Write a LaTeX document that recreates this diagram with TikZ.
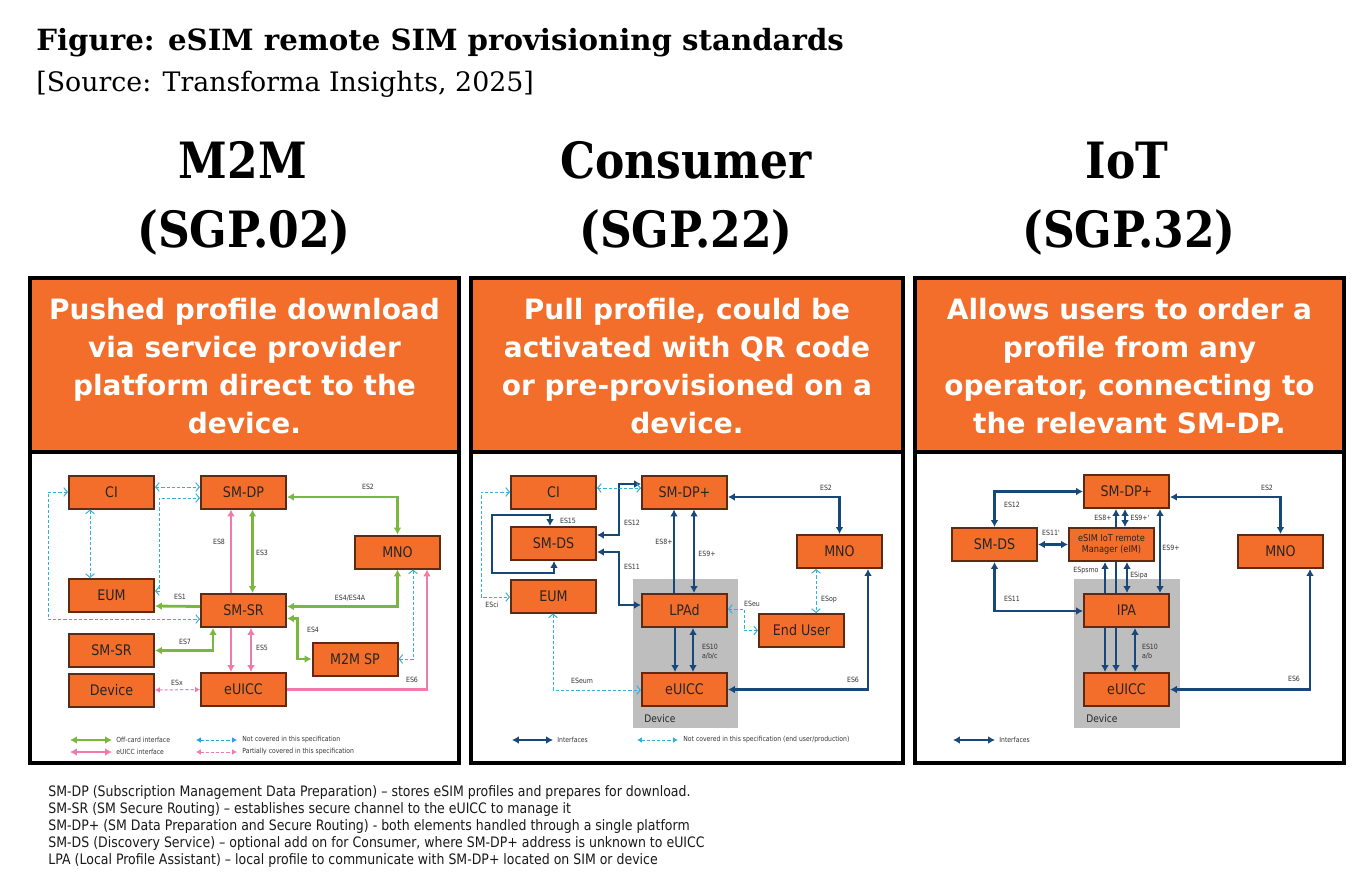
\documentclass[tikz,border=0pt]{standalone}
\usepackage{fontspec}
\setmainfont{DejaVu Sans}
\newfontfamily\tahoma[FakeStretch=0.87]{DejaVu Sans}
\newfontfamily\slab{DejaVu Serif}
\newfontfamily\slabhead[FakeStretch=0.88]{DejaVu Serif}
\usetikzlibrary{arrows.meta,calc}

\definecolor{esorange}{RGB}{243,110,42}
\definecolor{boxline}{RGB}{95,42,18}
\definecolor{offgreen}{RGB}{122,183,62}
\definecolor{uiccpink}{RGB}{240,122,172}
\definecolor{notcyan}{RGB}{48,178,220}
\definecolor{ifnavy}{RGB}{24,72,122}
\definecolor{devgray}{RGB}{190,190,190}

\begin{document}
\begin{tikzpicture}[x=0.5pt,y=-0.5pt,
    >={Latex[length=3.4pt,width=3.8pt]},
    barb/.tip={Straight Barb[length=1.8pt,width=4.4pt]},
    sm/.tip={Latex[length=2.4pt,width=2.8pt]},
    esbox/.style={draw=boxline, fill=esorange, line width=1pt, minimum width=42.5pt,
        minimum height=16.5pt, inner sep=0pt, text=black!85,
        font=\tahoma\fontsize{7.3}{8}\selectfont},
    hdr/.style={text=white, align=center, inner sep=0pt,
        font=\bfseries\fontsize{14}{19}\selectfont},
    std/.style={anchor=base, inner sep=0pt, font=\slabhead\bfseries\fontsize{25}{28}\selectfont},
    panelline/.style={draw=black, line width=2pt},
    offcard/.style={draw=offgreen, line width=1.4pt},
    uicc/.style={draw=uiccpink, line width=1.4pt},
    iface/.style={draw=ifnavy, line width=1.4pt},
    notcov/.style={draw=notcyan, line width=0.5pt, dash pattern=on 1.6pt off 1pt},
    partcov/.style={draw=uiccpink, line width=0.5pt, dash pattern=on 1.6pt off 1pt},
    eslbl/.style={inner sep=0pt, text=black!80, font=\tahoma\fontsize{3.6}{4.4}\selectfont},
    legtxt/.style={anchor=west, inner sep=0pt, text=black!80, font=\tahoma\fontsize{3.5}{4}\selectfont},
    devtxt/.style={anchor=base west, inner sep=0pt, text=black!85, font=\tahoma\fontsize{5.2}{6}\selectfont}]
    \useasboundingbox (0,0) rectangle (1362,884);

    % Titles
    \node[anchor=base west, inner sep=0pt, font=\slab\bfseries\fontsize{14.6}{16}\selectfont] (title) at (36,50) {Figure: eSIM remote SIM provisioning standards};
    \node[anchor=base west, inner sep=0pt, font=\slab\fontsize{13.4}{16}\selectfont] (source) at (36,91) {[Source: Transforma Insights, 2025]};

    \node[std] (mName) at (243,178) {M2M};
    \node[std] (mSgp) at (244,247) {(SGP.02)};
    \node[std] (cName) at (686,178) {Consumer};
    \node[std] (cSgp) at (686,247) {(SGP.22)};
    \node[std] (iName) at (1127,178) {IoT};
    \node[std] (iSgp) at (1129,247) {(SGP.32)};

    % Panels
    \foreach \xl/\xr in {30/459, 471/903, 915/1344} {
        \fill[esorange] (\xl,278) rectangle (\xr,452);
        \draw[panelline] (\xl,278) rectangle (\xr,763);
        \draw[panelline] (\xl,452) -- (\xr,452);
    }
    \node[hdr] (mHead) at (244.5,366) {Pushed profile download\\via service provider\\platform direct to the\\device.};
    \node[hdr] (cHead) at (687,366) {Pull profile, could be\\activated with QR code\\or pre-provisioned on a\\device.};
    \node[hdr] (iHead) at (1129.5,366) {Allows users to order a\\profile from any\\operator, connecting to\\the relevant SM-DP.};

    % ---------------- M2M (SGP.02)
    \node[esbox] (mCI) at (111.5,492) {CI};
    \node[esbox] (mDP) at (243.5,492) {SM-DP};
    \node[esbox] (mMNO) at (397.5,552) {MNO};
    \node[esbox] (mEUM) at (111.5,595.5) {EUM};
    \node[esbox] (mSR) at (243.5,610.5) {SM-SR};
    \node[esbox] (mSR2) at (111.5,650.5) {SM-SR};
    \node[esbox] (mSP) at (355,659) {M2M SP};
    \node[esbox] (mDev) at (111.5,690) {Device};
    \node[esbox] (mUICC) at (243.5,689.5) {eUICC};

    % off-card
    \draw[offcard,<->] ($(mDP.east)+(0,5)$) -| (mMNO.north);
    \draw[offcard,<->] ($(mDP.south)+(9,0)$) -- ($(mSR.north)+(9,0)$);
    \draw[offcard,<->] ($(mSR.east)+(0,-4)$) -| (mMNO.south);
    \draw[offcard,<->] ($(mSR.east)+(0,8)$) -| ($(mSP.west)+(-14,0)$) -- (mSP.west);
    \draw[offcard,->] ($(mSR.west)+(0,-4)$) -- ($(mEUM.east)+(0,10.5)$);
    \draw[offcard,<->] ($(mSR.south)+(-30.5,0)$) |- (mSR2.east);
    % eUICC
    \draw[uicc,->] ($(mSR.north)+(-12.5,0)$) -- ($(mDP.south)+(-12.5,0)$);
    \draw[uicc,->] ($(mSR.south)+(-12.5,0)$) -- ($(mUICC.north)+(-12.5,0)$);
    \draw[uicc,<->] ($(mSR.south)+(7.5,0)$) -- ($(mUICC.north)+(7.5,0)$);
    \draw[uicc,->] (mUICC.east) -| ($(mMNO.south)+(29.5,0)$);
    % not covered
    \draw[notcov,barb-barb] ($(mCI.east)+(0,-5)$) -- ($(mDP.west)+(0,-5)$);
    \draw[notcov,barb-barb] ($(mCI.south)+(-21.5,0)$) -- ($(mEUM.north)+(-21.5,0)$);
    \draw[notcov,barb-barb] ($(mEUM.east)+(0,-4.5)$) -- ++(4,0) |- ($(mDP.west)+(0,6)$);
    \draw[notcov,barb-barb] (mCI.west) -- ++(-20,0) |- ($(mSR.west)+(0,8.5)$);
    \draw[notcov,barb-barb] (mSP.east) -| ($(mMNO.south)+(15.5,0)$);
    \draw[partcov,sm-sm] (mDev.east) -- (mUICC.west);

    \node[eslbl] (mES2) at (368,487) {ES2};
    \node[eslbl] (mES8) at (219,542) {ES8};
    \node[eslbl] (mES3) at (262,553) {ES3};
    \node[eslbl] (mES1) at (180,597) {ES1};
    \node[eslbl] (mES4A) at (350,598) {ES4/ES4A};
    \node[eslbl] (mES4) at (313,630) {ES4};
    \node[eslbl] (mES7) at (185,642) {ES7};
    \node[eslbl] (mES5) at (262,648) {ES5};
    \node[eslbl] (mESx) at (177,683) {ESx};
    \node[eslbl] (mES6) at (412,680) {ES6};

    % legend
    \coordinate (mL1a) at (70,740); \coordinate (mL1b) at (112,740);
    \coordinate (mL2a) at (70,752); \coordinate (mL2b) at (112,752);
    \coordinate (mL3a) at (196,740); \coordinate (mL3b) at (237,740);
    \coordinate (mL4a) at (196,752); \coordinate (mL4b) at (237,752);
    \draw[offcard,<->] (mL1a) -- (mL1b);
    \draw[uicc,<->] (mL2a) -- (mL2b);
    \draw[notcov,draw=notcyan!90!blue,sm-sm] (mL3a) -- (mL3b);
    \draw[partcov,sm-sm] (mL4a) -- (mL4b);
    \node[legtxt] (mT1) at (116,740) {Off-card interface};
    \node[legtxt] (mT2) at (116,752) {eUICC interface};
    \node[legtxt] (mT3) at (242,740) {Not covered in this specification};
    \node[legtxt] (mT4) at (242,752) {Partially covered in this specification};

    % ---------------- Consumer (SGP.22)
    \fill[devgray] (633,579) rectangle (738,728);
    \node[devtxt] (cDevice) at (644,722) {Device};
    \node[esbox] (cCI) at (553.5,492) {CI};
    \node[esbox] (cDP) at (684.5,492) {SM-DP+};
    \node[esbox] (cDS) at (553.5,543.5) {SM-DS};
    \node[esbox] (cMNO) at (839.5,551.5) {MNO};
    \node[esbox] (cEUM) at (553.5,596) {EUM};
    \node[esbox] (cLPA) at (684.5,610.5) {LPAd};
    \node[esbox] (cEU) at (801.5,630.5) {End User};
    \node[esbox] (cUICC) at (684.5,689.5) {eUICC};

    \draw[iface,<->] ($(cDP.east)+(0,5)$) -| (cMNO.north);
    \draw[iface,<->] ($(cDS.east)+(0,-8.5)$) -- ++(22,0) |- ($(cDP.west)+(0,-8)$);
    \draw[iface,<->] ($(cDS.east)+(0,8.5)$) -- ++(22,0) |- ($(cLPA.west)+(0,-5.5)$);
    \draw[iface,<->] ($(cDS.south)+(0.5,0)$) -- ++(0,12) -| ($(cDS.north)+(-61.5,-11)$) -| ($(cDS.north)+(-3.5,0)$);
    \draw[iface,->] ($(cLPA.north)+(-10.5,0)$) -- ($(cDP.south)+(-10.5,0)$);
    \draw[iface,<->] ($(cLPA.north)+(9.5,0)$) -- ($(cDP.south)+(9.5,0)$);
    \draw[iface,->] ($(cLPA.south)+(-9.5,0)$) -- ($(cUICC.north)+(-9.5,0)$);
    \draw[iface,<->] ($(cLPA.south)+(8.5,0)$) -- ($(cUICC.north)+(8.5,0)$);
    \draw[iface,<->] (cUICC.east) -| ($(cMNO.south)+(28.5,0)$);
    \draw[notcov,barb-barb] ($(cCI.east)+(0,-4)$) -- ($(cDP.west)+(0,-4)$);
    \draw[notcov,barb-barb] (cCI.west) -- ++(-29,0) |- ($(cEUM.west)+(0,1)$);
    \draw[notcov,barb-barb] ($(cEUM.south)+(-0.5,0)$) |- ($(cUICC.west)+(0,0.5)$);
    \draw[notcov,barb-barb] ($(cLPA.east)+(0,-1.5)$) -- ++(16,0) |- (cEU.west);
    \draw[notcov,barb-barb] ($(cMNO.south)+(-23.5,0)$) -- ($(cEU.north)+(14.5,0)$);

    \node[eslbl] (cES2) at (826,488) {ES2};
    \node[eslbl] (cES15) at (568,521) {ES15};
    \node[eslbl] (cES12) at (632,523) {ES12};
    \node[eslbl] (cES8) at (664,542) {ES8+};
    \node[eslbl] (cES9) at (707,554) {ES9+};
    \node[eslbl] (cES11) at (632,567) {ES11};
    \node[eslbl] (cESeu) at (752,604) {ESeu};
    \node[eslbl] (cESop) at (829,600) {ESop};
    \node[eslbl] (cESci) at (492,605) {ESci};
    \node[eslbl,align=left] (cES10) at (710,652) {ES10\\a/b/c};
    \node[eslbl] (cESeum) at (582,681) {ESeum};
    \node[eslbl] (cES6) at (853,680) {ES6};

    \coordinate (cL1a) at (512,740); \coordinate (cL1b) at (553,740);
    \coordinate (cL2a) at (637,740); \coordinate (cL2b) at (678,740);
    \draw[iface,<->] (cL1a) -- (cL1b);
    \draw[notcov,sm-sm] (cL2a) -- (cL2b);
    \node[legtxt] (cT1) at (557,740) {Interfaces};
    \node[legtxt] (cT2) at (683,740) {Not covered in this specification (end user/production)};

    % ---------------- IoT (SGP.32)
    \fill[devgray] (1074,579) rectangle (1180,728);
    \node[devtxt] (iDevice) at (1086,722) {Device};
    \node[esbox] (iDP) at (1126.5,491.5) {SM-DP+};
    \node[esbox] (iDS) at (994.5,544.5) {SM-DS};
    \node[esbox,align=center,font=\tahoma\fontsize{4.7}{5.5}\selectfont] (iEIM) at (1111.5,544.5) {eSIM IoT remote\\Manager (eIM)};
    \node[esbox] (iMNO) at (1280.5,551.5) {MNO};
    \node[esbox] (iIPA) at (1126.5,610.5) {IPA};
    \node[esbox] (iUICC) at (1126.5,689.5) {eUICC};

    \draw[iface,<->] ($(iDP.east)+(0,5.5)$) -| (iMNO.north);
    \draw[iface,<->] (iDP.west) -| (iDS.north);
    \draw[iface,<->] (iDS.east) -- (iEIM.west);
    \draw[iface,<->] (iDS.south) |- ($(iIPA.west)+(0,0.5)$);
    \draw[iface] ($(iIPA.north)+(-10.5,0)$) -- ($(iEIM.south)+(4.5,0)$);
    \draw[iface,->] ($(iEIM.north)+(4.5,0)$) -- ($(iDP.south)+(-10.5,0)$);
    \draw[iface,<->] ($(iEIM.north)+(13.5,0)$) -- ($(iDP.south)+(-1.5,0)$);
    \draw[iface,<->] ($(iDP.south)+(33.5,0)$) -- ($(iIPA.north)+(33.5,0)$);
    \draw[iface,->] ($(iIPA.north)+(-21.5,0)$) -- ($(iEIM.south)+(-6.5,0)$);
    \draw[iface,<->] ($(iEIM.south)+(15.5,0)$) -- ($(iIPA.north)+(0.5,0)$);
    \draw[iface,->] ($(iIPA.south)+(-21.5,0)$) -- ($(iUICC.north)+(-21.5,0)$);
    \draw[iface,->] ($(iIPA.south)+(-10.5,0)$) -- ($(iUICC.north)+(-10.5,0)$);
    \draw[iface,<->] ($(iIPA.south)+(8.5,0)$) -- ($(iUICC.north)+(8.5,0)$);
    \draw[iface,<->] (iUICC.east) -| ($(iMNO.south)+(29.5,0)$);

    \node[eslbl] (iES2) at (1267,488) {ES2};
    \node[eslbl] (iES12) at (1012,505) {ES12};
    \node[eslbl] (iES8) at (1103,518) {ES8+};
    \node[eslbl] (iES9b) at (1140,518) {ES9+'};
    \node[eslbl] (iES11b) at (1051,533) {ES11'};
    \node[eslbl] (iES9) at (1171,548) {ES9+};
    \node[eslbl] (iESpsmo) at (1086,571) {ESpsmo};
    \node[eslbl] (iESipa) at (1139,576) {ESipa};
    \node[eslbl] (iES11) at (1012,599) {ES11};
    \node[eslbl,align=left] (iES10) at (1150,652) {ES10\\a/b};
    \node[eslbl] (iES6) at (1294,679) {ES6};

    \coordinate (iL1a) at (953,740); \coordinate (iL1b) at (995,740);
    \draw[iface,<->] (iL1a) -- (iL1b);
    \node[legtxt] (iT1) at (999,740) {Interfaces};

    % Notes
    \node[anchor=north west, inner sep=0pt, align=left, text=black!90,
        font=\tahoma\fontsize{7.2}{8.5}\selectfont] (notes) at (48,785)
        {SM-DP (Subscription Management Data Preparation) – stores eSIM profiles and prepares for download.\\
         SM-SR (SM Secure Routing) – establishes secure channel to the eUICC to manage it\\
         SM-DP+ (SM Data Preparation and Secure Routing) - both elements handled through a single platform\\
         SM-DS (Discovery Service) – optional add on for Consumer, where SM-DP+ address is unknown to eUICC\\
         LPA (Local Profile Assistant) – local profile to communicate with SM-DP+ located on SIM or device};
\end{tikzpicture}
\end{document}
